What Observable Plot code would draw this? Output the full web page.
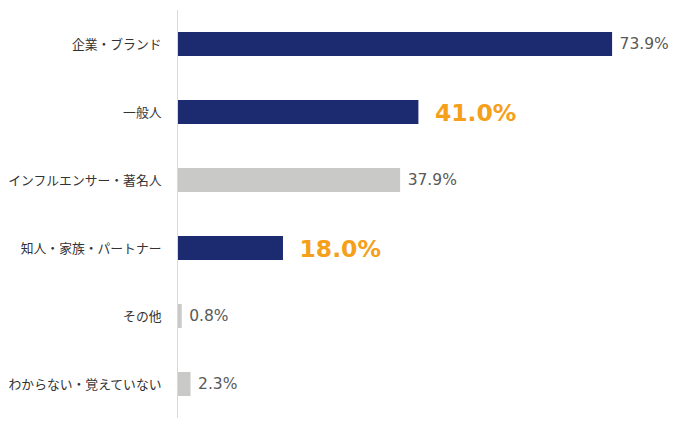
<!DOCTYPE html>
<html>
<head>
<meta charset="utf-8">
<script src="https://cdn.jsdelivr.net/npm/d3@7"></script>
<script src="https://cdn.jsdelivr.net/npm/@observablehq/plot@0.6"></script>
<style>
  html, body { margin: 0; padding: 0; background: #fff; }
  #chart svg { display: block; }
</style>
</head>
<body>
<div id="chart"></div>
<script>
const categories = ["企業・ブランド", "一般人", "インフルエンサー・著名人", "知人・家族・パートナー", "その他", "わからない・覚えていない"];
const values = [73.9, 41.0, 37.9, 18.0, 0.8, 2.3];
const highlighted = [true, true, false, true, false, false];
const emphasized = [false, true, false, true, false, false];

const data = categories.map((c, i) => ({
  category: c,
  value: values[i],
  hi: highlighted[i],
  em: emphasized[i]
}));

const navy = "#1c2a70";
const gray = "#c9cac8";
const orange = "#f5a01a";

const chart = Plot.plot({
  width: 683,
  height: 430,
  marginLeft: 177,
  marginRight: 35,
  marginTop: 10,
  marginBottom: 12,
  style: { fontFamily: "'Noto Sans CJK JP', sans-serif", background: "#fff" },
  x: { domain: [0, 80], axis: null },
  y: { domain: categories, paddingInner: 0.65, paddingOuter: 0.325, label: null },
  marks: [
    Plot.axisY({ tickSize: 0, tickPadding: 16, fontSize: 12.8, color: "#333", label: null }),
    Plot.barX(data, { x: "value", y: "category", fill: d => d.hi ? navy : gray }),
    Plot.ruleX([0], { stroke: "#d9d9d9", strokeWidth: 1 }),
    Plot.text(data.filter(d => !d.em), {
      x: "value", y: "category", text: d => d.value.toFixed(1) + "%",
      textAnchor: "start", dx: 7, fontSize: 15.5, fill: "#595959",
      fontFamily: "'DejaVu Sans', sans-serif"
    }),
    Plot.text(data.filter(d => d.em), {
      x: "value", y: "category", text: d => d.value.toFixed(1) + "%",
      textAnchor: "start", dx: 16, dy: 1, fontSize: 23.5, fontWeight: "bold", fill: orange,
      fontFamily: "'DejaVu Sans', sans-serif"
    })
  ]
});
document.getElementById("chart").appendChild(chart);
</script>
</body>
</html>
